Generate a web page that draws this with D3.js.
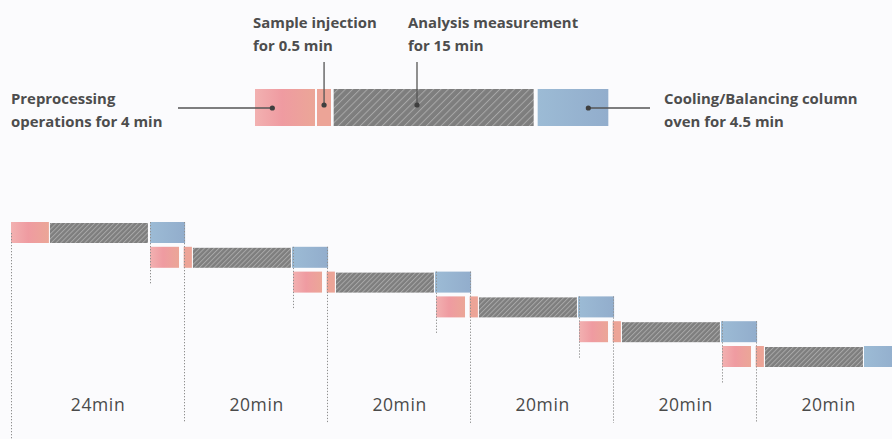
<!DOCTYPE html>
<html>
<head>
<meta charset="utf-8">
<script src="https://cdn.jsdelivr.net/npm/d3@7"></script>
<style>
  html, body { margin: 0; padding: 0; background: #fbfbfd; }
  svg { display: block; font-family: "Open Sans", "Noto Sans", sans-serif; }
  .callout { fill: #4d4d4d; font-weight: 700; font-size: 14.9px; }
  .cycle { fill: #4a4a4a; font-size: 17.5px; letter-spacing: 0.6px; }
</style>
</head>
<body>
<div id="chart"></div>
<script>
// Top schematic: one run, positions in minutes (as drawn)
const topKinds = ['prep', 'inj', 'ana', 'cool'];
const topStart = [0, 4.65, 5.9, 21.2];
const topEnd = [4.5, 5.7, 20.9, 26.5];

// Callouts: label lines, anchor (minutes on top scale), side
const calloutLines = [
  ['Preprocessing', 'operations for 4 min'],
  ['Sample injection', 'for 0.5 min'],
  ['Analysis measurement', 'for 15 min'],
  ['Cooling/Balancing column', 'oven for 4.5 min'],
];
const calloutAnchor = [1.3, 5.18, 12.15, 25.0];
const calloutSide = ['left', 'top', 'top', 'right'];

// Bottom: six consecutive runs, minutes from start of the sequence (as drawn)
const prepStart = [0, 19.45, 39.45, 59.45, 79.45, 99.45];
const prepEnd = [5.3, 23.5, 43.5, 63.5, 83.5, 103.5];
const injStart = [null, 24.15, 44.15, 64.15, 84.15, 104.15];
const injEnd = [null, 25.3, 45.3, 65.3, 85.3, 105.3];
const anaStart = [5.45, 25.45, 45.45, 65.45, 85.45, 105.45];
const anaEnd = [19.15, 39.15, 59.15, 79.15, 99.15, 119.15];
const coolStart = [19.45, 39.3, 59.3, 79.3, 99.3, 119.3];
const coolEnd = [24.35, 44.35, 64.35, 84.35, 104.35, 124.35];

// Cycle boundaries and their labels
const cycleEdges = [0, 24.35, 44.35, 64.35, 84.35, 104.35, 124.35];
const cycleLabels = ['24min', '20min', '20min', '20min', '20min', '20min'];

const W = 892, H = 439;
const svg = d3.select('#chart').append('svg')
  .attr('width', W).attr('height', H).attr('viewBox', `0 0 ${W} ${H}`);

const defs = svg.append('defs');
function hLinear(id, stops) {
  const g = defs.append('linearGradient').attr('id', id)
    .attr('x1', 0).attr('x2', 1).attr('y1', 0).attr('y2', 0);
  stops.forEach(([o, c]) => g.append('stop').attr('offset', o).attr('stop-color', c));
}
hLinear('pinkGrad', [[0, '#f2b1b1'], [0.45, '#ef9ba1'], [1, '#eba697']]);
hLinear('blueGrad', [[0, '#9cbbd5'], [1, '#92adcc']]);

function hatch(id, size) {
  const p = defs.append('pattern').attr('id', id)
    .attr('patternUnits', 'userSpaceOnUse')
    .attr('width', size).attr('height', size)
    .attr('patternTransform', 'rotate(45)');
  p.append('rect').attr('width', size).attr('height', size).attr('fill', '#7e7e7e');
  p.append('line').attr('x1', 0.5).attr('x2', 0.5).attr('y1', 0).attr('y2', size)
    .attr('stroke', '#a8a8a8').attr('stroke-width', 1);
}
hatch('hatchTop', 5.2);
hatch('hatchRow', 3.4);

const fillFor = (kind, big) => ({
  prep: 'url(#pinkGrad)',
  inj: '#eca497',
  ana: big ? 'url(#hatchTop)' : 'url(#hatchRow)',
  cool: 'url(#blueGrad)',
})[kind];

// ---- top schematic ----
const xTop = d3.scaleLinear().domain([0, 15]).range([255, 455]);
const topY = 89, topH = 37;
const topSegs = topKinds.map((k, i) => ({ kind: k, s: topStart[i], e: topEnd[i] }));

svg.append('g').selectAll('rect').data(topSegs).join('rect')
  .attr('x', (d) => xTop(d.s)).attr('y', topY)
  .attr('width', (d) => xTop(d.e) - xTop(d.s)).attr('height', topH)
  .attr('fill', (d) => fillFor(d.kind, true));

const co = svg.append('g');
calloutLines.forEach((lines, i) => {
  const ax = xTop(calloutAnchor[i]);
  const side = calloutSide[i];
  let tx, ty, ay;
  if (side === 'top') {
    ay = topY + topH / 2 - 2.5;
    co.append('line').attr('x1', ax).attr('x2', ax).attr('y1', 62).attr('y2', ay)
      .attr('stroke', '#555').attr('stroke-width', 1.3);
    tx = ax - (i === 1 ? 71 : 9); ty = 28;
  } else if (side === 'left') {
    ay = topY + topH / 2 + 0.5;
    co.append('line').attr('x1', 178).attr('x2', ax).attr('y1', ay).attr('y2', ay)
      .attr('stroke', '#555').attr('stroke-width', 1.3);
    tx = 11; ty = 104;
  } else {
    ay = topY + topH / 2 + 0.5;
    co.append('line').attr('x1', ax).attr('x2', 650).attr('y1', ay).attr('y2', ay)
      .attr('stroke', '#555').attr('stroke-width', 1.3);
    tx = 664; ty = 104;
  }
  co.append('circle').attr('cx', ax).attr('cy', ay).attr('r', 2.6).attr('fill', '#3f3f3f');
  const t = co.append('text').attr('class', 'callout').attr('x', tx).attr('y', ty);
  lines.forEach((l, j) => t.append('tspan').attr('x', tx).attr('dy', j ? 23 : 0).text(l));
});

// ---- bottom sequence ----
const x = d3.scaleLinear().domain([0, 20]).range([11, 154]);
const rowTop = d3.scaleLinear().domain([0, 5]).range([222, 346]);
const rowH = 21;

const segs = [];
prepStart.forEach((_, r) => {
  segs.push({ r, kind: 'prep', s: prepStart[r], e: prepEnd[r] });
  if (injStart[r] != null) segs.push({ r, kind: 'inj', s: injStart[r], e: injEnd[r] });
  segs.push({ r, kind: 'ana', s: anaStart[r], e: anaEnd[r] });
  segs.push({ r, kind: 'cool', s: coolStart[r], e: coolEnd[r] });
});

svg.append('g').selectAll('rect').data(segs).join('rect')
  .attr('x', (d) => x(d.s))
  .attr('y', (d) => rowTop(d.r) + (d.kind === 'ana' ? 1 : 0))
  .attr('width', (d) => x(d.e) - x(d.s))
  .attr('height', (d) => rowH - (d.kind === 'ana' ? 1 : 0))
  .attr('fill', (d) => fillFor(d.kind, false));

// dotted guides
const guides = svg.append('g')
  .attr('stroke', '#8f8f8f').attr('stroke-width', 1).attr('stroke-dasharray', '1.3 1.7');

// start of the sequence
guides.append('line').attr('x1', x(cycleEdges[0]) + 0.5).attr('x2', x(cycleEdges[0]) + 0.5)
  .attr('y1', 233).attr('y2', H);

// short guides at each new run's preprocessing start
prepStart.slice(1).forEach((s, i) => {
  const px = Math.round(x(s)) + 0.5;
  guides.append('line').attr('x1', px).attr('x2', px)
    .attr('y1', rowTop(i)).attr('y2', rowTop(i + 1) + rowH + 17);
});

// long guides at each cycle boundary
cycleEdges.slice(1, -1).forEach((s, i) => {
  const px = Math.round(x(s)) - 0.5;
  guides.append('line').attr('x1', px).attr('x2', px)
    .attr('y1', rowTop(i)).attr('y2', 423);
});

// cycle labels
svg.append('g').selectAll('text').data(cycleLabels).join('text')
  .attr('class', 'cycle')
  .attr('x', (d, i) => (x(cycleEdges[i]) + x(cycleEdges[i + 1])) / 2)
  .attr('y', 411)
  .attr('text-anchor', 'middle')
  .text((d) => d);
</script>
</body>
</html>
